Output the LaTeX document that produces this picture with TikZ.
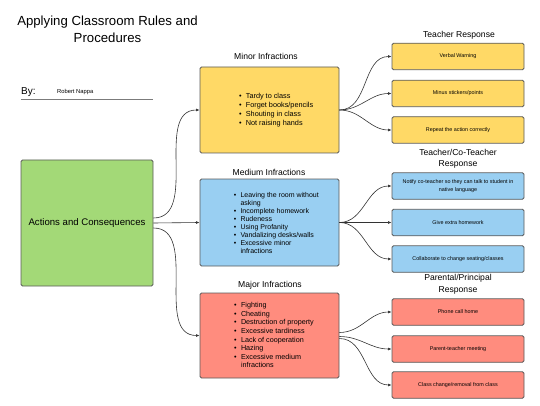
\documentclass[tikz,border=0pt]{standalone}
\usepackage{fontspec}
\setmainfont{Liberation Sans}
\usetikzlibrary{arrows.meta,calc}
\definecolor{bordergray}{HTML}{5A5A5A}
\definecolor{yfill}{HTML}{FFD966}
\definecolor{bfill}{HTML}{99CFF2}
\definecolor{rfill}{HTML}{FF8C7E}
\definecolor{gfill}{HTML}{A3D977}
\definecolor{linegray}{HTML}{333333}
\begin{document}
\begin{tikzpicture}[x=1pt,y=-1pt,
  box/.style={draw=bordergray, line width=0.8pt, rounded corners=1.5pt, inner sep=0pt},
  rbox/.style={box, minimum width=132pt, minimum height=26.5pt, align=center,
    font={\fontsize{5.4}{7.6}\selectfont}},
  mbox/.style={box, minimum width=139pt},
  head/.style={inner sep=0pt, align=center, font={\fontsize{8.6}{11.5}\selectfont}},
  lst/.style={inner sep=0pt, anchor=west, align=left},
  conn/.style={draw=linegray, line width=0.6pt, -{Latex[length=3.5pt,width=2.8pt]}}
]
\useasboundingbox (0,0) rectangle (540,406);
% title
\node[inner sep=0pt, align=center, font={\fontsize{13.2}{17}\selectfont}] (title) at (107.5,29.5) {Applying Classroom Rules and\\Procedures};
\node[inner sep=0pt, anchor=west, font={\fontsize{10}{12}\selectfont}] (by) at (21,92) {By:};
\node[inner sep=0pt, anchor=west, font={\fontsize{5.8}{7}\selectfont}] (author) at (57,92.5) {Robert Nappa};
\coordinate (ulA) at (21,99.5);
\coordinate (ulB) at (153,99.5);
\draw[draw=bordergray!80, line width=1.1pt] (ulA) -- (ulB);
% main box
\node[box, fill=gfill, minimum width=132pt, minimum height=126pt, font={\fontsize{9.6}{12}\selectfont}] (green) at (87,223) {Actions and Consequences};
% middle boxes
\node[mbox, fill=yfill, minimum height=86pt] (yel) at (269.5,110) {};
\node[mbox, fill=bfill, minimum height=87pt] (blu) at (269.5,222.5) {};
\node[mbox, fill=rfill, minimum height=85pt] (red) at (269.5,335.5) {};
\node[head] (hyel) at (266,56) {Minor Infractions};
\node[head] (hblu) at (269,172.5) {Medium Infractions};
\node[head] (hred) at (270,285) {Major Infractions};
% lists
\node[lst, font={\fontsize{7.3}{9}\selectfont}] (lyel) at (238.8,110) {%
\begin{tabular}{@{}l@{\hspace{4.3pt}}l@{}}
\textbullet & Tardy to class\\
\textbullet & Forget books/pencils\\
\textbullet & Shouting in class\\
\textbullet & Not raising hands
\end{tabular}};
\node[lst, font={\fontsize{7}{8}\selectfont}] (lblu) at (233.6,223.7) {%
\begin{tabular}{@{}l@{\hspace{4.3pt}}l@{}}
\textbullet & Leaving the room without\\
 & asking\\
\textbullet & Incomplete homework\\
\textbullet & Rudeness\\
\textbullet & Using Profanity\\
\textbullet & Vandalizing desks/walls\\
\textbullet & Excessive minor\\
 & infractions
\end{tabular}};
\node[lst, font={\fontsize{7.2}{8.6}\selectfont}] (lred) at (234,336) {%
\begin{tabular}{@{}l@{\hspace{4.3pt}}l@{}}
\textbullet & Fighting\\
\textbullet & Cheating\\
\textbullet & Destruction of property\\
\textbullet & Excessive tardiness\\
\textbullet & Lack of cooperation\\
\textbullet & Hazing\\
\textbullet & Excessive medium\\
 & infractions
\end{tabular}};
% right headers
\node[head] (hr1) at (459,35) {Teacher Response};
\node[head] (hr2) at (458,159) {Teacher/Co-Teacher\\Response};
\node[head] (hr3) at (458,284.5) {Parental/Principal\\Response};
% right boxes
\node[rbox, fill=yfill] (y1) at (458,56.5) {Verbal Warning};
\node[rbox, fill=yfill] (y2) at (458,93.5) {Minus stickers/points};
\node[rbox, fill=yfill] (y3) at (458,130) {Repeat the action correctly};
\node[rbox, fill=bfill] (b1) at (458,186) {Notify co-teacher so they can talk to student in\\native language};
\node[rbox, fill=bfill] (b2) at (458,222.5) {Give extra homework};
\node[rbox, fill=bfill] (b3) at (458,259) {Collaborate to change seating/classes};
\node[rbox, fill=rfill] (r1) at (458,312) {Phone call home};
\node[rbox, fill=rfill] (r2) at (458,349) {Parent-teacher meeting};
\node[rbox, fill=rfill] (r3) at (458,385) {Class change/removal from class};
% connectors
\draw[conn] ($(green.east)+(0,-5)$) to[out=0,in=180] (yel.west);
\draw[conn] (green.east) -- (blu.west);
\draw[conn] ($(green.east)+(0,5)$) to[out=0,in=180] (red.west);
\draw[conn] (yel.east) to[out=0,in=180] (y1.west);
\draw[conn] (yel.east) to[out=0,in=180] (y2.west);
\draw[conn] (yel.east) to[out=0,in=180] (y3.west);
\draw[conn] (blu.east) to[out=0,in=180] (b1.west);
\draw[conn] (blu.east) -- (b2.west);
\draw[conn] (blu.east) to[out=0,in=180] (b3.west);
\draw[conn] ($(red.east)+(0,-3)$) to[out=0,in=180] (r1.west);
\draw[conn] ($(red.east)+(0,1)$) to[out=0,in=180] (r2.west);
\draw[conn] ($(red.east)+(0,3)$) to[out=0,in=180] (r3.west);
\end{tikzpicture}
\end{document}
